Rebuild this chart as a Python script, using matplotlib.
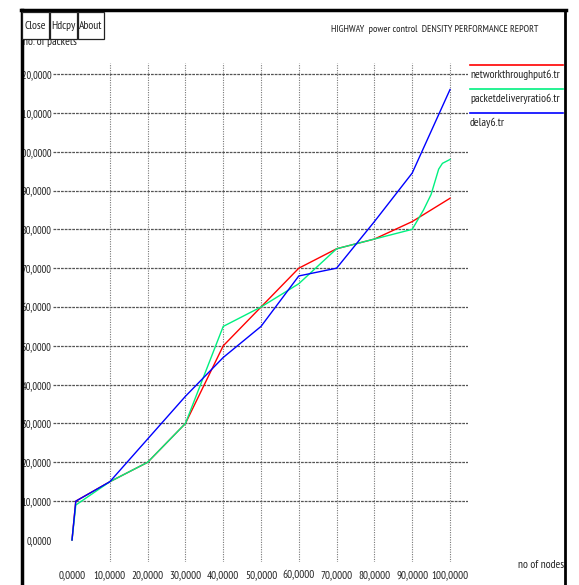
import matplotlib
matplotlib.use("Agg")
import matplotlib.pyplot as plt
from matplotlib.lines import Line2D
from matplotlib.patches import Rectangle
from matplotlib.transforms import Bbox, TransformedBbox

plt.rcParams['font.family'] = ['PT Sans Narrow', 'DejaVu Sans']
FS = 8.3

# density results for the highway scenario
x_throughput = [0, 1, 10, 20, 30, 40, 50, 60, 70, 80, 90, 95, 100]
y_throughput = [0, 10, 15, 20, 30, 50, 60, 70, 75, 77.5, 82, 85, 88]

x_pdr = [0, 1, 10, 20, 30, 40, 50, 60, 70, 80, 90, 93, 95, 97, 98, 100]
y_pdr = [0, 9, 15, 20, 30, 55, 60, 66, 75, 77.5, 80, 85, 89, 95.5, 97, 98]

x_delay = [0, 1, 10, 20, 30, 40, 50, 60, 70, 80, 90, 100]
y_delay = [0, 10, 15, 26, 37, 47, 55, 68, 70, 82, 94.5, 116]

series = [("networkthroughput6.tr", x_throughput, y_throughput, "#ff0000"),
          ("packetdeliveryratio6.tr", x_pdr, y_pdr, "#00f080"),
          ("delay6.tr", x_delay, y_delay, "#0000ff")]

xticks = list(range(0, 101, 10))
yticks = list(range(0, 121, 10))

W, H = 579, 585
fig = plt.figure(figsize=(W / 100, H / 100), dpi=100)
fig.patch.set_facecolor("white")

def fx(px):
    return px / W

def fy(py):
    return 1 - py / H

ax = fig.add_axes([fx(53), fy(562), fx(468) - fx(53), (562 - 63) / H])
ax.set_xlim(-5.03, 104.76)
ax.set_ylim(-5.67, 122.84)
for s in ax.spines.values():
    s.set_visible(False)

# xgraph-like grid: dashed rows, dotted columns
for v in yticks[1:]:
    ax.axhline(v, color="#555555", lw=0.9, ls=(0, (2.2, 0.8)), zorder=1)
for v in xticks[1:]:
    ax.axvline(v, color="#777777", lw=0.8, ls=(0, (1, 1.2)), zorder=1)

lines = []
for name, xs, ys, c in series:
    ax.plot(xs, ys, color=c, lw=1.0, zorder=3)
    lines.append((name, c))

ax.set_xticks(xticks)
ax.set_xticklabels(["%d,0000" % v for v in xticks])
ax.set_yticks(yticks)
ax.set_yticklabels(["%d,0000" % v for v in yticks])
ax.tick_params(length=0, labelsize=FS, colors="#222222")
ax.tick_params(axis="y", pad=1, labelsize=7.6)
ax.tick_params(axis="x", pad=5.5, labelsize=8)

# left window edge cuts off the wide labels
clip = TransformedBbox(Bbox([[fx(24), 0], [fx(60), 1]]), fig.transFigure)
for lab in ax.get_yticklabels():
    lab.set_clip_on(True)
    lab.set_clip_box(clip)

# legend on the right
leg_y = [65, 89, 113]
for (name, c), yl in zip(lines, leg_y):
    fig.add_artist(Line2D([fx(470), fx(563)], [fy(yl), fy(yl)], color=c, lw=1.2))
    fig.text(fx(470), fy(yl + 10), name, fontsize=FS, color="#222222",
             ha="left", va="center")

# window furniture
fig.text(fx(23), fy(42), "no. of packets", fontsize=FS, color="#222222",
         ha="left", va="center", zorder=1)
for label, x0, x1 in [("Close", 22, 49), ("Hdcpy", 50, 77), ("About", 78, 104)]:
    fig.add_artist(Rectangle((fx(x0), fy(39)), fx(x1) - fx(x0), (39 - 12) / H,
                             transform=fig.transFigure, facecolor="white",
                             edgecolor="#222222", lw=0.9, zorder=5))
    fig.text(fx((x0 + x1) / 2), fy(26), label, fontsize=FS, color="#222222",
             ha="center", va="center", zorder=6)

fig.text(fx(435), fy(30), "HIGHWAY  power control  DENSITY PERFORMANCE REPORT",
         fontsize=7.3, color="#222222", ha="center", va="center")
fig.text(fx(564), fy(565), "no of nodes", fontsize=FS, color="#222222",
         ha="right", va="center")

fig.add_artist(Line2D([fx(21), fx(566)], [fy(10), fy(10)], color="black", lw=2.5))
fig.add_artist(Line2D([fx(22), fx(22)], [fy(10), fy(585)], color="black", lw=2.5))
fig.add_artist(Line2D([fx(565), fx(565)], [fy(10), fy(585)], color="black", lw=2.0))

fig.savefig("out.png", dpi=100)
